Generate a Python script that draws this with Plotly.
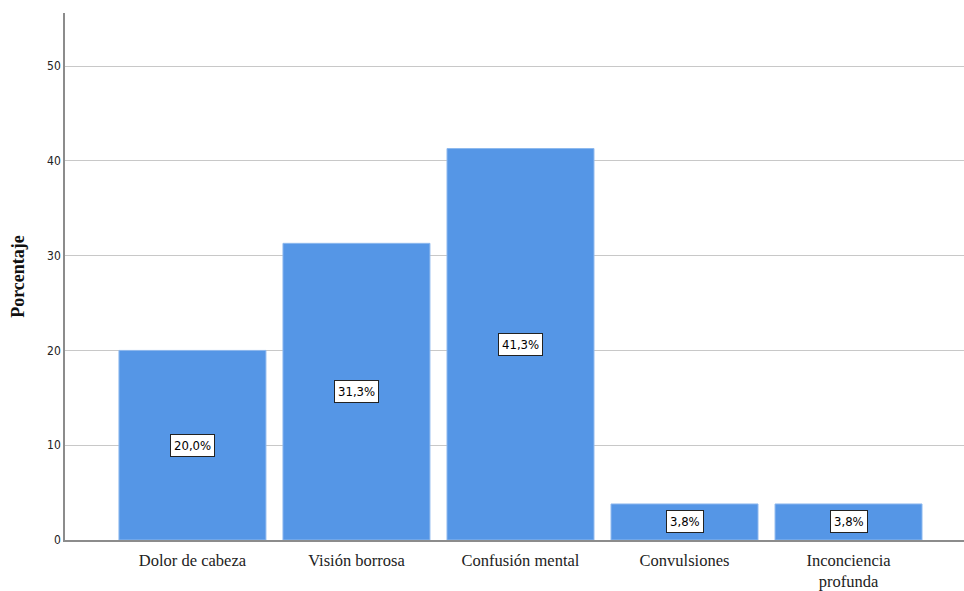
import plotly.graph_objects as go

categories = ["Dolor de cabeza", "Visión borrosa", "Confusión mental", "Convulsiones", "Inconciencia<br>profunda"]
values = [20.0, 31.3, 41.3, 3.8, 3.8]
labels = ["20,0%", "31,3%", "41,3%", "3,8%", "3,8%"]
yticks = [0, 10, 20, 30, 40, 50]

fig = go.Figure()
fig.add_trace(go.Bar(
    x=list(range(len(categories))), y=values, width=0.896,
    marker=dict(color="#5596e6", line=dict(color="#8db8ee", width=1)),
    hoverinfo="skip",
))

for i, (v, t) in enumerate(zip(values, labels)):
    fig.add_annotation(x=i, y=v / 2, text=t, showarrow=False,
                       font=dict(family="DejaVu Sans Condensed, Arial Narrow, sans-serif", size=13, color="#000"),
                       bgcolor="white", bordercolor="#222", borderwidth=1, borderpad=3)

fig.update_layout(
    width=964, height=591,
    margin=dict(l=65, r=0, t=13, b=51),
    plot_bgcolor="white", paper_bgcolor="white",
    showlegend=False,
    xaxis=dict(range=[-0.777, 4.704], tickmode="array", tickvals=list(range(len(categories))),
               ticktext=categories, showgrid=False, zeroline=False, automargin=False,
               showline=True, linecolor="#8c8c8c", linewidth=1.5, ticks="",
               ticklabelstandoff=4,
               tickfont=dict(family="Liberation Serif, Times New Roman, serif", size=16.5, color="#222")),
    yaxis=dict(range=[0, 55.6], tickvals=yticks, showgrid=True, gridcolor="#c8c8c8", gridwidth=1,
               zeroline=False, showline=True, linecolor="#8c8c8c", linewidth=1.5,
               ticks="", ticklen=0, automargin=False,
               tickfont=dict(family="DejaVu Sans Condensed, Arial, sans-serif", size=12, color="#222"),
               title=dict(text="<b>Porcentaje</b>", standoff=18,
                          font=dict(family="Liberation Serif, Times New Roman, serif", size=18, color="#111"))),
)

fig.write_html("out.html")
